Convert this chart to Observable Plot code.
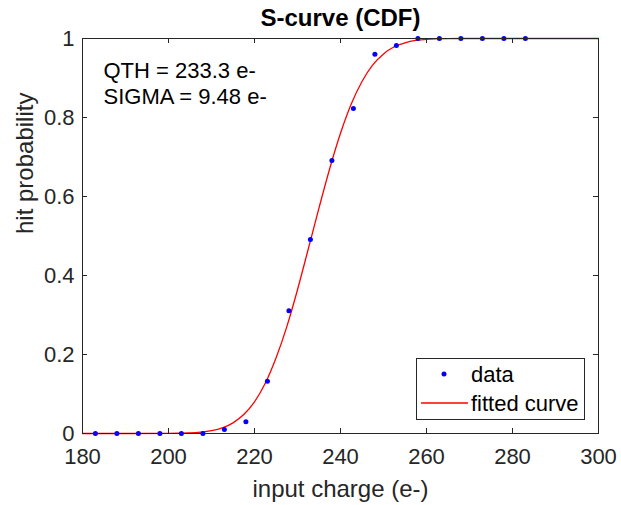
<!DOCTYPE html>
<html>
<head>
<meta charset="utf-8">
<script src="https://cdn.jsdelivr.net/npm/d3@7"></script>
<script src="https://cdn.jsdelivr.net/npm/@observablehq/plot@0.6"></script>
<style>
  html, body { margin: 0; padding: 0; background: #fff; }
  #wrap { position: relative; width: 621px; height: 505px; font-family: "Liberation Sans", Arial, sans-serif; }
  #legend { position: absolute; left: 416px; top: 358px; }
</style>
</head>
<body>
<div id="wrap">
  <div id="chart"></div>
  <svg id="legend" width="169" height="62" font-family="Liberation Sans, Arial, sans-serif" font-size="22">
    <rect x="0.5" y="0.5" width="168" height="61" fill="#fff" stroke="#262626" stroke-width="1"></rect>
    <circle cx="28" cy="16" r="2.5" fill="#0000ff"></circle>
    <text x="55" y="24" fill="#000">data</text>
    <line x1="5" x2="52" y1="45" y2="45" stroke="#ff0000" stroke-width="1.3"></line>
    <text x="55" y="53" fill="#000">fitted curve</text>
  </svg>
</div>
<script>
// measured hit probabilities
const charge = [183, 188, 193, 198, 203, 208, 213, 218, 223, 228, 233, 238, 243, 248, 253, 258, 263, 268, 273, 278, 283];
const hitProb = [0, 0, 0, 0, 0, 0, 0.01, 0.03, 0.132, 0.311, 0.491, 0.691, 0.823, 0.96, 0.982, 1, 1, 1, 1, 1, 1];

// fitted curve
const curveX = [180, 200, 205, 207.5, 210, 212.5, 215, 217.5, 220, 222.5, 225, 227.5, 230, 232.5, 235, 237.5, 240, 242.5, 245, 247.5, 250, 252.5, 255, 257.5, 260, 265, 270, 300];
const curveY = [0, 0.0002, 0.0014, 0.0033, 0.007, 0.014, 0.027, 0.048, 0.080, 0.127, 0.191, 0.270, 0.364, 0.467, 0.571, 0.671, 0.760, 0.834, 0.891, 0.933, 0.961, 0.979, 0.989, 0.995, 0.998, 0.9996, 1, 1];

const xTicks = [180, 200, 220, 240, 260, 280, 300];
const yTicks = [0, 0.2, 0.4, 0.6, 0.8, 1];

const title = "S-curve (CDF)";
const xLabel = "input charge (e-)";
const yLabel = "hit probability";
const noteQTH = "QTH = 233.3 e-";
const noteSigma = "SIGMA = 9.48 e-";

const points = charge.map((c, i) => ({x: c, y: hitProb[i]}));
const fit = curveX.map((c, i) => ({x: c, y: curveY[i]}));

const axisColor = "#262626";
const W = 621, H = 505, mL = 82, mR = 23, mT = 38, mB = 72;
const innerW = W - mL - mR, innerH = H - mT - mB, tickLen = 5;

const chart = Plot.plot({
  width: W,
  height: H,
  marginLeft: mL,
  marginRight: mR,
  marginTop: mT,
  marginBottom: mB,
  style: {fontFamily: "Liberation Sans, Arial, sans-serif", fontSize: "22px", color: axisColor, background: "#fff"},
  x: {domain: [180, 300], ticks: xTicks},
  y: {domain: [0, 1], ticks: yTicks},
  marks: [
    Plot.line(fit, {x: "x", y: "y", stroke: "#ff0000", strokeWidth: 1.3, curve: "monotone-x"}),
    Plot.dot(points, {x: "x", y: "y", r: 2.5, fill: "#0000ff", stroke: null}),
    // inward tick marks on all four sides
    Plot.ruleX(xTicks, {stroke: axisColor, insetTop: innerH - tickLen}),
    Plot.ruleX(xTicks, {stroke: axisColor, insetBottom: innerH - tickLen}),
    Plot.ruleY(yTicks, {stroke: axisColor, insetRight: innerW - tickLen}),
    Plot.ruleY(yTicks, {stroke: axisColor, insetLeft: innerW - tickLen}),
    Plot.axisX({anchor: "bottom", ticks: xTicks, tickSize: 0, tickPadding: 15, label: null, fill: axisColor, fontSize: 22}),
    Plot.axisY({anchor: "left", ticks: yTicks, tickSize: 0, tickPadding: 8, tickFormat: d => String(+d.toFixed(1)), label: null, fill: axisColor, fontSize: 22}),
    Plot.frame({stroke: axisColor, strokeWidth: 1}),
    Plot.text([title], {frameAnchor: "top", lineAnchor: "middle", dy: -20, fontWeight: "bold", fontSize: 24, fill: "#000"}),
    Plot.text([xLabel], {frameAnchor: "bottom", lineAnchor: "middle", dy: 56, fontSize: 24, fill: axisColor}),
    Plot.text([yLabel], {frameAnchor: "left", lineAnchor: "middle", dx: -57, dy: -2, rotate: -90, fontSize: 24, fill: axisColor}),
    Plot.text([noteQTH], {frameAnchor: "top-left", lineAnchor: "middle", dx: 21, dy: 32, textAnchor: "start", fontSize: 22, fill: "#000"}),
    Plot.text([noteSigma], {frameAnchor: "top-left", lineAnchor: "middle", dx: 21, dy: 58, textAnchor: "start", fontSize: 22, fill: "#000"})
  ]
});
document.getElementById("chart").appendChild(chart);
</script>
</body>
</html>
